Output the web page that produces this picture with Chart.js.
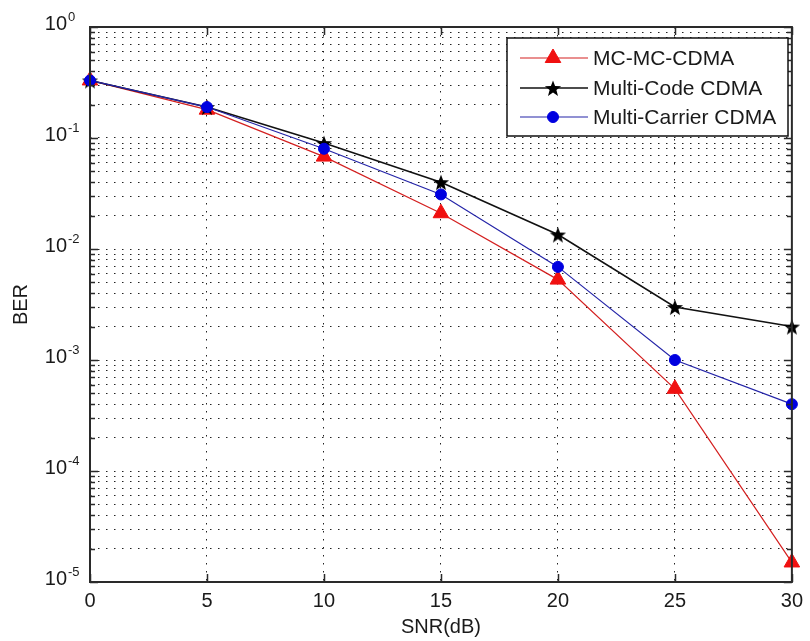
<!DOCTYPE html>
<html>
<head>
<meta charset="utf-8">
<title>BER vs SNR</title>
<script src="https://cdn.jsdelivr.net/npm/chart.js@4.4.1/dist/chart.umd.min.js"></script>
<style>
  html, body { margin: 0; padding: 0; background: #fff; }
  canvas { display: block; }
</style>
</head>
<body>
<canvas id="berChart" width="810" height="641"></canvas>
<script>
// values
const snrValues = [0, 5, 10, 15, 20, 25, 30];
const mcMcCdma = [0.33, 0.18, 0.068, 0.021, 0.0053, 0.00055, 0.000015];
const multiCode = [0.33, 0.19, 0.09, 0.04, 0.0135, 0.003, 0.002];
const multiCarrier = [0.33, 0.19, 0.08, 0.031, 0.0069, 0.001, 0.0004];
const seriesNames = ['MC-MC-CDMA', 'Multi-Code CDMA', 'Multi-Carrier CDMA'];
const xTickValues = [0, 5, 10, 15, 20, 25, 30];
const decadeExponents = [0, -1, -2, -3, -4, -5];

const FONT = '"Liberation Sans", Arial, sans-serif';
const FRAME = '#2a2a2a';

// filled five-point star like matlab's pentagram marker
function makeStar(size, color) {
  const c = document.createElement('canvas');
  c.width = size;
  c.height = size;
  const g = c.getContext('2d');
  const ro = size / 2 - 0.5, ri = ro * 0.42;
  g.beginPath();
  for (let i = 0; i < 10; i++) {
    const r = i % 2 ? ri : ro;
    const a = -Math.PI / 2 + i * Math.PI / 5;
    g.lineTo(size / 2 + r * Math.cos(a), size / 2 + 1 + r * Math.sin(a));
  }
  g.closePath();
  g.fillStyle = color;
  g.fill();
  return c;
}
const starImg = makeStar(18, '#000');

// every 1..9 x 10^k between 1e-5 and 1
function logGridValues() {
  let vals = [];
  for (let k = -5; k < 0; k++) {
    for (let m = 1; m < 10; m++) {
      vals.push(Number((m * Math.pow(10, k)).toPrecision(6)));
    }
  }
  vals.push(1);
  return vals;
}

function toPoints(ys) {
  return snrValues.map((x, i) => ({ x: x, y: ys[i] }));
}

const datasets = [
  {
    label: seriesNames[0],
    data: toPoints(mcMcCdma),
    borderColor: '#d42020',
    borderWidth: 1.2,
    pointStyle: 'triangle',
    pointRadius: 9,
    pointBackgroundColor: '#f01010',
    pointBorderColor: '#f01010',
    pointBorderWidth: 1,
    order: 2
  },
  {
    label: seriesNames[1],
    data: toPoints(multiCode),
    borderColor: '#111',
    borderWidth: 1.6,
    pointStyle: starImg,
    pointRadius: 9,
    order: 1
  },
  {
    label: seriesNames[2],
    data: toPoints(multiCarrier),
    borderColor: '#2424a8',
    borderWidth: 1.2,
    pointStyle: 'circle',
    pointRadius: 5.5,
    pointBackgroundColor: '#0000e0',
    pointBorderColor: '#0000e0',
    pointBorderWidth: 1,
    order: 0
  }
];
datasets.forEach(ds => {
  ds.tension = 0;
  ds.fill = false;
  ds.clip = false;
});

// box, inward ticks, 10^k labels and the legend, matlab style
const matlabAxes = {
  id: 'matlabAxes',
  afterDraw(chart) {
    const ctx = chart.ctx;
    const area = chart.chartArea;
    const xs = chart.scales.x;
    const ys = chart.scales.y;

    ctx.save();
    ctx.strokeStyle = FRAME;
    ctx.lineWidth = 1.5;

    // inward ticks
    ctx.beginPath();
    xTickValues.forEach(v => {
      const px = Math.round(xs.getPixelForValue(v)) + 0.5;
      ctx.moveTo(px, area.bottom); ctx.lineTo(px, area.bottom - 8);
      ctx.moveTo(px, area.top); ctx.lineTo(px, area.top + 8);
    });
    logGridValues().forEach(v => {
      const py = Math.round(ys.getPixelForValue(v)) + 0.5;
      const major = Math.abs(Math.log10(v) - Math.round(Math.log10(v))) < 1e-9;
      const len = major ? 8 : 5;
      ctx.moveTo(area.left, py); ctx.lineTo(area.left + len, py);
      ctx.moveTo(area.right, py); ctx.lineTo(area.right - len, py);
    });
    ctx.stroke();

    // frame
    ctx.lineWidth = 2;
    ctx.strokeRect(area.left, area.top, area.right - area.left, area.bottom - area.top);

    // y labels 10^k
    ctx.fillStyle = '#1a1a1a';
    ctx.textBaseline = 'alphabetic';
    decadeExponents.forEach(k => {
      const py = ys.getPixelForValue(Math.pow(10, k));
      ctx.font = '20px ' + FONT;
      ctx.textAlign = 'right';
      ctx.fillText('10', 67, py + 3);
      ctx.font = '13px ' + FONT;
      ctx.textAlign = 'left';
      ctx.fillText(String(k), 68, py - 6);
    });

    // legend
    const lx = 507, ly = 38, lw = 281, lh = 98;
    ctx.fillStyle = '#fff';
    ctx.fillRect(lx, ly, lw, lh);
    ctx.lineWidth = 1.5;
    ctx.strokeStyle = '#111';
    ctx.strokeRect(lx, ly, lw, lh);
    const rows = [58, 88, 117];
    chart.data.datasets.forEach((ds, i) => {
      const y = rows[i];
      ctx.strokeStyle = ds.borderColor;
      ctx.lineWidth = ds.borderWidth;
      ctx.beginPath();
      ctx.moveTo(520, y);
      ctx.lineTo(588, y);
      ctx.stroke();
      ctx.fillStyle = ds.pointBackgroundColor || '#000';
      ctx.strokeStyle = ds.pointBorderColor || '#000';
      ctx.lineWidth = ds.pointBorderWidth || 1;
      Chart.helpers.drawPoint(ctx, {
        pointStyle: ds.pointStyle,
        radius: ds.pointRadius,
        rotation: 0,
        borderWidth: ds.pointBorderWidth || 1
      }, 553, y);
      ctx.fillStyle = '#1a1a1a';
      ctx.font = '21px ' + FONT;
      ctx.textAlign = 'left';
      ctx.textBaseline = 'middle';
      ctx.fillText(ds.label, 593, y + 1);
    });
    ctx.restore();
  }
};

const chart = new Chart(document.getElementById('berChart'), {
  type: 'line',
  data: { datasets: datasets },
  options: {
    responsive: false,
    animation: false,
    events: [],
    layout: { padding: { top: 27, right: 12, left: 0, bottom: 0 } },
    plugins: {
      legend: { display: false },
      tooltip: { enabled: false }
    },
    scales: {
      x: {
        type: 'linear',
        min: 0,
        max: 30,
        afterBuildTicks: s => { s.ticks = xTickValues.map(v => ({ value: v })); },
        afterFit: s => { s.height = 59; },
        grid: { color: '#222', lineWidth: 1, drawTicks: false },
        border: { display: false, dash: [1.5, 6.5] },
        ticks: {
          color: '#1a1a1a',
          font: { family: FONT, size: 20 },
          padding: 7,
          maxRotation: 0
        },
        title: {
          display: true,
          text: 'SNR(dB)',
          color: '#1a1a1a',
          font: { family: FONT, size: 20 },
          padding: { top: 0, bottom: 2 }
        }
      },
      y: {
        type: 'logarithmic',
        min: 1e-5,
        max: 1,
        afterBuildTicks: s => { s.ticks = logGridValues().map(v => ({ value: v })); },
        afterFit: s => { s.width = 90; },
        grid: { color: '#222', lineWidth: 1, drawTicks: false },
        border: { display: false, dash: [1.5, 6.5] },
        ticks: { display: false },
        title: {
          display: true,
          text: 'BER',
          color: '#1a1a1a',
          font: { family: FONT, size: 20 },
          padding: { top: 9, bottom: 0 }
        }
      }
    }
  },
  plugins: [matlabAxes]
});
</script>
</body>
</html>
